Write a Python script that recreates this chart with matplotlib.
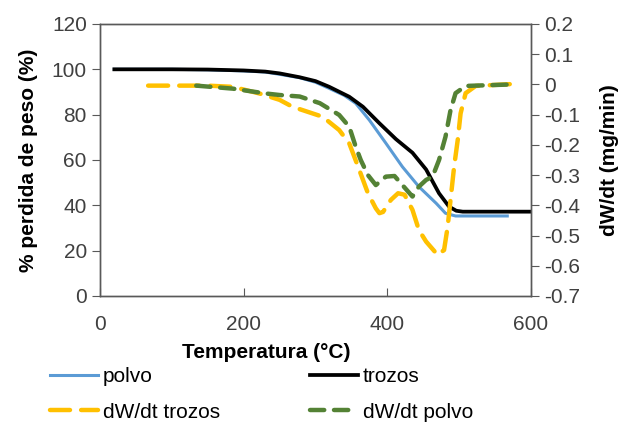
import matplotlib
matplotlib.use("Agg")
import matplotlib.pyplot as plt

plt.rcParams["font.family"] = ["Liberation Sans", "DejaVu Sans"]

# TGA curves (% weight)
temp_polvo = [20, 100, 150, 200, 230, 250, 278, 300, 319, 340, 356, 375, 398, 421, 444,
              468, 481, 495, 567]
peso_polvo = [100, 100, 99.8, 99.3, 98.8, 97.8, 96.3, 94.3, 91.6, 88.5, 85.0, 77.6, 67.4,
              57.0, 48.2, 40.9, 36.5, 35.3, 35.3]

temp_trozos = [20, 100, 150, 200, 230, 250, 278, 300, 319, 347, 366, 389, 412, 435, 454,
               472, 486, 496, 505, 600]
peso_trozos = [100, 100, 99.9, 99.5, 99.0, 98.2, 96.5, 94.8, 92.3, 87.9, 83.5, 76.2, 69.2,
               63.2, 55.8, 45.3, 39.4, 37.6, 37.2, 37.2]

# DTG curves (mg/min)
temp_dtg_trozos = [67, 150, 185, 222, 250, 268, 296, 310, 333, 347, 361, 373, 384, 389,
                   394, 405, 415, 424, 435, 444, 454, 470, 479, 484, 488, 493, 498, 502,
                   509, 523, 579]
dtg_trozos = [-0.004, -0.004, -0.008, -0.03, -0.051, -0.074, -0.096, -0.107, -0.151,
              -0.195, -0.283, -0.36, -0.41, -0.426, -0.422, -0.382, -0.36, -0.365, -0.415,
              -0.482, -0.52, -0.564, -0.548, -0.471, -0.382, -0.272, -0.184, -0.096,
              -0.029, -0.005, 0.002]

temp_dtg_polvo = [134, 185, 231, 250, 278, 306, 333, 347, 356, 363, 373, 384, 398, 410,
                  421, 435, 444, 454, 463, 472, 481, 488, 495, 509, 574]
dtg_polvo = [-0.004, -0.014, -0.03, -0.035, -0.04, -0.062, -0.101, -0.14, -0.206, -0.25,
             -0.3, -0.333, -0.305, -0.303, -0.333, -0.371, -0.338, -0.316, -0.305, -0.25,
             -0.173, -0.085, -0.029, -0.005, 0.0]

tick_color = "#404040"
spine_color = "#595959"

fig = plt.figure(figsize=(6.23, 4.26), dpi=100)
ax = fig.add_axes([0.1605, 0.3052, 0.6918, 0.6385])
ax2 = ax.twinx()

l_polvo, = ax.plot(temp_polvo, peso_polvo, color="#5B9BD5", lw=2.2)
l_trozos, = ax.plot(temp_trozos, peso_trozos, color="black", lw=2.7)

l_dtg_t, = ax2.plot(temp_dtg_trozos, dtg_trozos, color="#FFC000", lw=3.2,
                    dashes=(4.5, 2.5), dash_capstyle="round")
l_dtg_p, = ax2.plot(temp_dtg_polvo, dtg_polvo, color="#548235", lw=3.2,
                    dashes=(3.2, 2.2), dash_capstyle="round")

ax.set_xlim(0, 600)
ax.set_ylim(0, 120)
ax.set_xticks([0, 200, 400, 600])
ax.set_yticks(range(0, 121, 20))
ax2.set_ylim(-0.7, 0.2)
ax2.set_yticks([0.2, 0.1, 0, -0.1, -0.2, -0.3, -0.4, -0.5, -0.6, -0.7])
ax2.set_yticklabels(["0.2", "0.1", "0", "-0.1", "-0.2", "-0.3", "-0.4", "-0.5", "-0.6", "-0.7"])

fs = 15
ax.tick_params(axis="x", direction="in", length=6, labelsize=fs, colors=spine_color,
               labelcolor=tick_color, pad=14)
ax.tick_params(axis="y", direction="out", length=6, labelsize=fs, colors=spine_color,
               labelcolor=tick_color)
ax2.tick_params(axis="y", direction="out", length=6, labelsize=fs, colors=spine_color,
                labelcolor=tick_color)
for a in (ax, ax2):
    for s in a.spines.values():
        s.set_color(spine_color)
        s.set_linewidth(1.0)

ax.set_ylabel("% perdida de peso (%)", fontsize=fs, fontweight="bold", labelpad=10)
ax2.set_ylabel("dW/dt (mg/min)", fontsize=fs, fontweight="bold", labelpad=14)
fig.text(266 / 623, 1 - 353 / 426, "Temperatura (°C)", fontsize=fs, fontweight="bold",
         ha="center", va="center")

handles = [l_polvo, l_dtg_t, l_trozos, l_dtg_p]
labels = ["polvo", "dW/dt trozos", "trozos", "dW/dt polvo"]
fig.legend(handles, labels, ncol=2, loc="upper left", bbox_to_anchor=(50 / 623, 1 - 367 / 426),
           frameon=False, fontsize=fs, handlelength=2.3, handletextpad=0.25,
           columnspacing=4.3, labelspacing=0.8, borderaxespad=0, borderpad=0)

fig.savefig("out.png", dpi=100)
